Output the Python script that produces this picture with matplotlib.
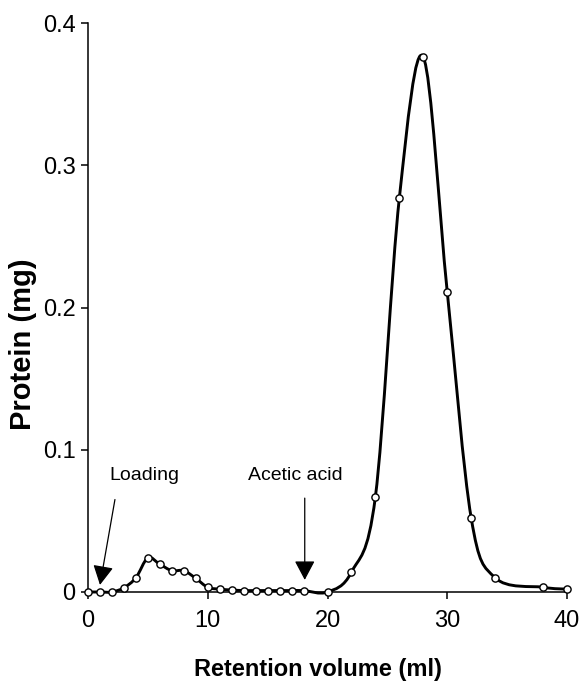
import matplotlib
matplotlib.use("Agg")
import matplotlib.pyplot as plt
from matplotlib.path import Path
from matplotlib.patches import PathPatch
import numpy as np

plt.rcParams['font.family'] = ['Liberation Sans', 'DejaVu Sans']

# Data
volume = [0, 1, 2, 3, 4, 5, 6, 7, 8, 9, 10, 11, 12, 13, 14, 15, 16, 17, 18,
          20, 22, 24, 26, 28, 30, 32, 34, 38, 40]
protein = [0.0, 0.0, 0.0, 0.003, 0.010, 0.024, 0.0195, 0.015, 0.015, 0.0096,
           0.0033, 0.002, 0.0014, 0.001, 0.001, 0.001, 0.001, 0.001, 0.001,
           0.0, 0.014, 0.067, 0.277, 0.376, 0.211, 0.052, 0.010, 0.0033, 0.002]

x_ticks = [0, 10, 20, 30, 40]
y_ticks = [0, 0.1, 0.2, 0.3, 0.4]
y_tick_labels = ['0', '0.1', '0.2', '0.3', '0.4']

fig = plt.figure(figsize=(5.79, 6.90), dpi=100)
W, H = 579, 690
ax = fig.add_axes([88 / W, 98 / H, (567 - 88) / W, (592 - 23) / H])

# Smoothed line (Bezier through data points, like a spreadsheet smoothed line)
pts = np.column_stack([volume, protein])
n = len(pts)
verts = [tuple(pts[0])]
codes = [Path.MOVETO]
for i in range(n - 1):
    p0 = pts[i - 1] if i > 0 else pts[i]
    p1 = pts[i]
    p2 = pts[i + 1]
    p3 = pts[i + 2] if i + 2 < n else pts[i + 1]
    c1 = p1 + (p2 - p0) / 6.0
    c2 = p2 - (p3 - p1) / 6.0
    verts += [tuple(c1), tuple(c2), tuple(p2)]
    codes += [Path.CURVE4, Path.CURVE4, Path.CURVE4]
patch = PathPatch(Path(verts, codes), facecolor='none', edgecolor='black',
                  lw=2.1, clip_on=False, zorder=3)
ax.add_patch(patch)

ax.plot(volume, protein, linestyle='none', marker='o', markersize=5.2,
        markerfacecolor='white', markeredgecolor='black', markeredgewidth=1.0,
        clip_on=False, zorder=4)

ax.set_xlim(0, 40)
ax.set_ylim(0, 0.4)
ax.set_xticks(x_ticks)
ax.set_yticks(y_ticks)
ax.set_yticklabels(y_tick_labels)
for s in ['top', 'right']:
    ax.spines[s].set_visible(False)
for s in ['left', 'bottom']:
    ax.spines[s].set_linewidth(1.1)
ax.tick_params(direction='out', length=5, width=1.1, labelsize=17)
ax.tick_params(axis='y', pad=4)
ax.tick_params(axis='x', pad=8)

ax.set_xlabel('Retention volume (ml)', fontsize=17, fontweight='bold')
ax.set_ylabel('Protein (mg)', fontsize=21, fontweight='bold')
ax.xaxis.set_label_coords(0.48, -0.116)
ax.yaxis.set_label_coords(-0.106, 0.435)

arrow_style = dict(arrowstyle='-|>,head_length=0.85,head_width=0.45',
                   color='black', lw=0.9, mutation_scale=14,
                   shrinkA=0, shrinkB=0)
ax.annotate('', xy=(1.0, 0.005), xytext=(2.25, 0.065), arrowprops=arrow_style,
            annotation_clip=False)
ax.annotate('', xy=(18.1, 0.0085), xytext=(18.1, 0.066), arrowprops=arrow_style,
            annotation_clip=False)
ax.text(1.75, 0.082, 'Loading', fontsize=14, ha='left', va='center')
ax.text(13.4, 0.082, 'Acetic acid', fontsize=14, ha='left', va='center')

fig.savefig('out.png', dpi=100)
